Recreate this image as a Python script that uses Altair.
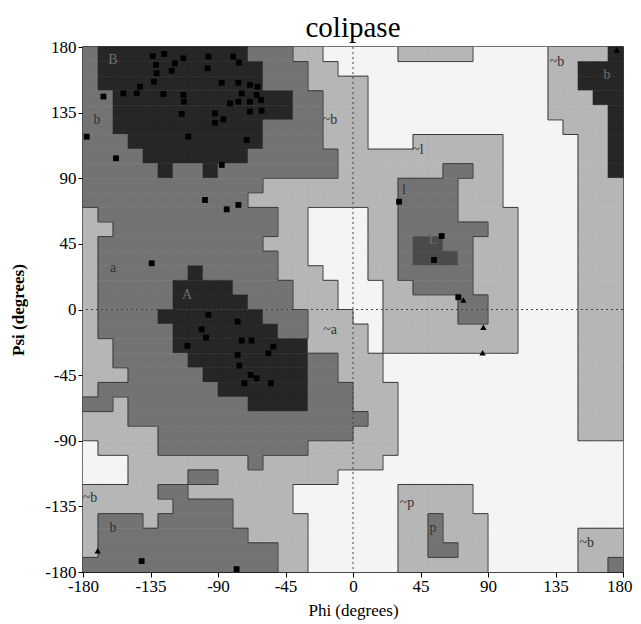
import altair as alt
import pandas as pd

# Region map: 36 rows (psi 180 -> -180, 10 deg each), 36 cols (phi -180 -> 180)
# 0 = disallowed, 1 = generously allowed, 2 = allowed, 3 = core, 4 = core (L)
ROWS = [
    "233333333332221100000111110000011113",
    "233333333333222110000000000000011333",
    "233333333333222111100000000000011333",
    "223333333333332211100000000000011133",
    "223333333333332211100000000000011113",
    "223333333333222211100000000000001113",
    "222333333333222211100011111100000113",
    "222233333332222221111111111100000113",
    "222223223222222221111111221100000113",
    "222222222222111111111222211100000111",
    "222222222221111111111222211100000111",
    "122222222222211000011222211110000111",
    "112222222222211000011222222110000111",
    "122222222222111000011244221110000111",
    "122222222222211000011244421110000111",
    "122222232222211100011222221110000111",
    "122222333322221110001122221110000111",
    "122222333332221110001111122110000111",
    "122223333333222111001111122110000111",
    "122222333333322111101111111110000111",
    "112222333333333111101111111110000111",
    "112222233333333221110000000000000111",
    "111222223333333221110000000000000111",
    "122222222333333222111000000000000111",
    "221222222223333222111000000000000111",
    "111222222222222222211000000000000111",
    "111112222222222222111000000000000111",
    "011112222222222111111000000000000000",
    "000111111112111111110000000000000000",
    "000111122111111110000000000000000000",
    "111112211111110000000111110000000000",
    "111111222211110000000111110000000000",
    "122212222211111000000112111000000000",
    "122222222221111000000112111000000111",
    "122222222222211000000112211000000111",
    "222222222222211000000111111000000112",
]
LEVEL_COLORS = ["#f4f4f4", "#b6b6b6", "#737373", "#262626", "#4a4a4a"]

# residues (phi, psi)
SQ_PHI = [-133.5, -125.8, -131.3, -118.7, -113.1, -96.4, -96.9, -79.8, -76.0, -120.9,
          -130.9, -132.7, -142.0, -153.1, -144.2, -126.4, -113.1, -112.7, -87.5, -76.4,
          -68.7, -63.6, -74.2, -64.2, -82.0, -76.4, -68.7, -61.3, -114.2, -92.0,
          -86.4, -92.0, -68.7, -60.9, -109.8, -70.9, -87.5, -166.4, -177.5, -158.0,
          -98.7, -84.2, -76.4, 30.7, -134.2, -96.4, -100.9, -98.0, -110.4, -76.9,
          -74.2, -67.6, -76.9, -75.8, -68.2, -64.2, -72.4, -53.1, -56.4, -54.7,
          59.1, 54.0, 70.2, -140.9, -77.6]
SQ_PSI = [173.8, 175.2, 167.7, 168.8, 172.2, 173.4, 165.4, 173.4, 169.3, 163.8,
          162.0, 156.2, 152.8, 148.2, 148.2, 147.8, 147.1, 142.5, 155.5, 155.5,
          154.1, 152.8, 148.2, 147.1, 141.4, 142.5, 142.5, 143.7, 134.1, 134.5,
          130.4, 128.1, 135.7, 136.3, 118.5, 116.2, 99.1, 146.0, 118.5, 103.7,
          75.1, 68.7, 71.7, 73.9, 31.7, -3.7, -13.6, -19.3, -25.0, -8.3,
          -21.3, -21.3, -31.2, -38.5, -44.9, -47.2, -50.6, -25.5, -30.0, -50.6,
          50.4, 34.0, 8.4, -172.5, -178.0]
TRI_PHI = [73.6, 86.9, 86.4, 175.8, -170.2]
TRI_PSI = [6.5, -12.2, -29.6, 177.9, -165.4]

LAB_TEXT = ["B", "b", "~b", "~l", "l", "L", "a", "A", "~a", "~b", "b", "~p", "p", "~b", "~b", "b"]
LAB_PHI = [-160, -170.7, -15.3, 43.3, 34, 53.3, -160, -110.7, -15.3, -175.3, -160, 36, 53.3, 155.8, 136, 169.3]
LAB_PSI = [171, 130, 130, 109.4, 82, 47.6, 28.4, 10, -14, -129.3, -150, -132.7, -150, -160, 169.7, 160.8]
LAB_ON_DARK = [True, False, False, False, False, True, False, True, False, False, False, False, False, False, False, True]

TICKS = [-180, -135, -90, -45, 0, 45, 90, 135, 180]

cells = []
for j, row in enumerate(ROWS):
    for i, ch in enumerate(row):
        cells.append({"phi0": -180 + 10 * i, "phi1": -170 + 10 * i,
                      "psi0": 180 - 10 * j, "psi1": 170 - 10 * j, "level": ch})
cells = pd.DataFrame(cells)

# region borders (between non-core regions), derived from the map
CORE = ("3", "4")
segs = []
for j in range(36):
    for i in range(35):
        a, b = ROWS[j][i], ROWS[j][i + 1]
        if a != b and a not in CORE and b not in CORE:
            segs.append({"x1": -170 + 10 * i, "x2": -170 + 10 * i,
                         "y1": 180 - 10 * j, "y2": 170 - 10 * j})
for j in range(35):
    for i in range(36):
        a, b = ROWS[j][i], ROWS[j + 1][i]
        if a != b and a not in CORE and b not in CORE:
            segs.append({"x1": -180 + 10 * i, "x2": -170 + 10 * i,
                         "y1": 170 - 10 * j, "y2": 170 - 10 * j})
segs = pd.DataFrame(segs)

FONT = "Liberation Serif"
xs = alt.Scale(domain=[-180, 180], nice=False, zero=False)
ys = alt.Scale(domain=[-180, 180], nice=False, zero=False)
cscale = alt.Scale(domain=["0", "1", "2", "3", "4"], range=LEVEL_COLORS)

xaxis = alt.Axis(values=TICKS, labelExpr="'' + datum.value", grid=False,
                 labelFont=FONT, labelFontSize=17, labelColor="black",
                 tickColor="black", domainColor="black", tickSize=5, labelPadding=1,
                 labelAlign={"condition": {"test": "datum.value == 180", "value": "right"},
                             "value": "center"},
                 labelOffset={"condition": {"test": "datum.value == 180", "value": 9},
                              "value": 0},
                 title="Phi (degrees)", titleFont=FONT, titleFontSize=17,
                 titleFontWeight="normal", titleColor="black", titlePadding=8,
                 labelFlush=False)
yaxis = alt.Axis(values=TICKS, labelExpr="'' + datum.value", grid=False,
                 labelFont=FONT, labelFontSize=17, labelColor="black",
                 tickColor="black", domainColor="black", tickSize=5, labelPadding=2,
                 title="Psi (degrees)", titleFont=FONT, titleFontSize=17,
                 titleFontWeight="bold", titleColor="black", titlePadding=17,
                 labelFlush=False)

base = alt.Chart(cells).mark_rect(strokeWidth=0.6).encode(
    x=alt.X("phi0:Q", scale=xs, axis=xaxis),
    x2="phi1:Q",
    y=alt.Y("psi0:Q", scale=ys, axis=yaxis),
    y2="psi1:Q",
    color=alt.Color("level:N", scale=cscale, legend=None),
    stroke=alt.Stroke("level:N", scale=cscale, legend=None),
)

borders = alt.Chart(segs).mark_rule(color="#3a3a3a", strokeWidth=1).encode(
    x=alt.X("x1:Q", scale=xs), x2="x2:Q",
    y=alt.Y("y1:Q", scale=ys), y2="y2:Q")

zero_v = alt.Chart(pd.DataFrame({"v": [0]})).mark_rule(
    color="#444", strokeDash=[2, 3], strokeWidth=1).encode(x=alt.X("v:Q", scale=xs))
zero_h = alt.Chart(pd.DataFrame({"v": [0]})).mark_rule(
    color="#444", strokeDash=[2, 3], strokeWidth=1).encode(y=alt.Y("v:Q", scale=ys))

sq = alt.Chart(pd.DataFrame({"phi": SQ_PHI, "psi": SQ_PSI})).mark_point(
    shape="square", filled=True, size=34, color="black", opacity=1).encode(
    x=alt.X("phi:Q", scale=xs), y=alt.Y("psi:Q", scale=ys))
tri = alt.Chart(pd.DataFrame({"phi": TRI_PHI, "psi": TRI_PSI})).mark_point(
    shape="triangle-up", filled=True, size=40, color="black", opacity=1).encode(
    x=alt.X("phi:Q", scale=xs), y=alt.Y("psi:Q", scale=ys))
labels = alt.Chart(pd.DataFrame({"t": LAB_TEXT, "phi": LAB_PHI, "psi": LAB_PSI,
                                 "dark": LAB_ON_DARK})).mark_text(
    font=FONT, fontSize=14, align="center", baseline="middle").encode(
    x=alt.X("phi:Q", scale=xs), y=alt.Y("psi:Q", scale=ys), text="t:N",
    color=alt.condition("datum.dark", alt.value("#6e6e6e"), alt.value("#333333")))

chart = alt.layer(base, borders, zero_v, zero_h, labels, sq, tri).properties(
    width=540, height=525,
    autosize=alt.AutoSizeParams(type="none"),
    padding={"left": 75, "top": 39, "right": 10, "bottom": 52},
    title=alt.Title("colipase", font=FONT, fontSize=29, fontWeight="normal",
                    color="black", offset=4, dy=9, anchor="middle"),
).configure_view(stroke="black", strokeWidth=1.5)

chart.save("out.html", embed_options={"renderer": "svg", "actions": False})
